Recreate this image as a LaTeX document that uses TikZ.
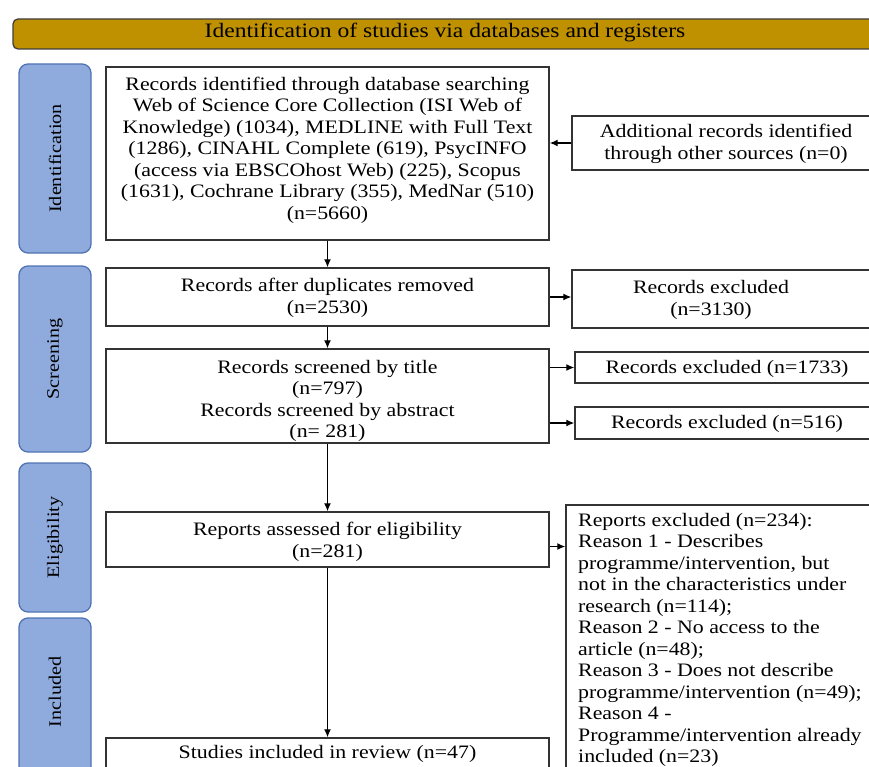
\documentclass[tikz,border=0pt]{standalone}
\usepackage{fontspec}
\setmainfont{Liberation Serif}[FakeStretch=1.15]
\usetikzlibrary{arrows.meta,calc,fit}
\definecolor{gold}{RGB}{191,144,0}
\definecolor{sideblue}{RGB}{143,170,220}
\definecolor{sideedge}{RGB}{80,115,180}
\begin{document}
\begin{tikzpicture}[x=1pt,y=-1pt,
  box/.style={draw=black!80, line width=1.4pt, fill=white, inner sep=0pt},
  side/.style={draw=sideedge, line width=1.3pt, fill=sideblue, rounded corners=9pt, inner sep=0pt},
  hdrbox/.style={draw=black!75, line width=1.3pt, fill=gold, rounded corners=5pt, inner sep=0pt},
  txt/.style={align=center, inner sep=0pt, font=\fontsize{19}{21.5}\selectfont},
  sidetxt/.style={rotate=90, inner sep=0pt, font=\fontsize{17.5}{21.5}\selectfont},
  arr/.style={line width=1.3pt, -{Latex[length=8pt,width=7pt]}}]
\useasboundingbox (0,0) rectangle (869,767);
\begin{scope}
\clip (0,0) rectangle (869,767);
% header
\node[hdrbox, fit={(13,19) (885,49)}] (hdr) {};
\node[txt, font=\fontsize{20.5}{22}\selectfont] (hdrt) at (445,32) {Identification of studies via databases and registers};
% side labels
\node[side, fit={(19,64) (91,253)}] (sident) {};
\node[sidetxt] (sidentt) at (sident.center) {Identification};
\node[side, fit={(19,266) (91,452)}] (sscreen) {};
\node[sidetxt] (sscreent) at (sscreen.center) {Screening};
\node[side, fit={(19,463) (91,612)}] (selig) {};
\node[sidetxt] (seligt) at (selig.center) {Eligibility};
\node[side, fit={(19,618) (91,800)}] (sincl) {};
\node[sidetxt] (sinclt) at (55,692) {Included};
% main boxes
\node[box, fit={(106,67) (549,240)}] (b1) {};
\node[txt] (b1t) at (327.5,150) {Records identified through database searching\\
Web of Science Core Collection (ISI Web of\\
Knowledge) (1034), MEDLINE with Full Text\\
(1286), CINAHL Complete (619), PsycINFO\\
(access via EBSCOhost Web) (225), Scopus\\
(1631), Cochrane Library (355), MedNar (510)\\
(n=5660)};
\node[box, fit={(572,116) (885,170)}] (add) {};
\node[txt] (addt) at (726,144) {Additional records identified\\through other sources (n=0)};
\node[box, fit={(106,268) (549,326)}] (b2) {};
\node[txt] (b2t) at (327.5,298) {Records after duplicates removed\\(n=2530)};
\node[box, fit={(572,270) (885,328)}] (ex1) {};
\node[txt] (ex1t) at (711,300) {Records excluded\\(n=3130)};
\node[box, fit={(106,349) (549,443)}] (b3) {};
\node[txt] (b3t) at (327.5,401) {Records screened by title\\(n=797)\\Records screened by abstract\\(n= 281)};
\node[box, fit={(575,352) (885,383)}] (ex2) {};
\node[txt] (ex2t) at (727,369) {Records excluded (n=1733)};
\node[box, fit={(575,407) (885,439)}] (ex3) {};
\node[txt] (ex3t) at (727,424) {Records excluded (n=516)};
\node[box, fit={(106,512) (549,567)}] (b4) {};
\node[txt] (b4t) at (327.5,542) {Reports assessed for eligibility\\(n=281)};
\node[box, fit={(566,505) (885,800)}] (rs) {};
\node[txt, align=left, anchor=north west] (rst) at (578,513) {Reports excluded (n=234):\\
Reason 1 - Describes\\
programme/intervention, but\\
not in the characteristics under\\
research (n=114);\\
Reason 2 - No access to the\\
article (n=48);\\
Reason 3 - Does not describe\\
programme/intervention (n=49);\\
Reason 4 -\\
Programme/intervention already\\
included (n=23)};
\node[box, fit={(106,738) (549,800)}] (b5) {};
\node[txt] (b5t) at (327.5,754) {Studies included in review (n=47)};
% arrows
\draw[arr] (add.west) -- (add.west -| b1.east);
\draw[arr] (b1.south) -- (b2.north);
\draw[arr] (b2.east) -- (b2.east -| ex1.west);
\draw[arr] (b2.south) -- (b3.north);
\draw[arr] (b3.east |- ex2.west) -- (ex2.west);
\draw[arr] (b3.east |- ex3.west) -- (ex3.west);
\draw[arr] (b3.south) -- (b4.north);
\draw[arr] ([yshift=-7pt]b4.east) -- ([yshift=-7pt]b4.east -| rs.west);
\draw[arr] (b4.south) -- (b5.north);
\end{scope}
\end{tikzpicture}
\end{document}
